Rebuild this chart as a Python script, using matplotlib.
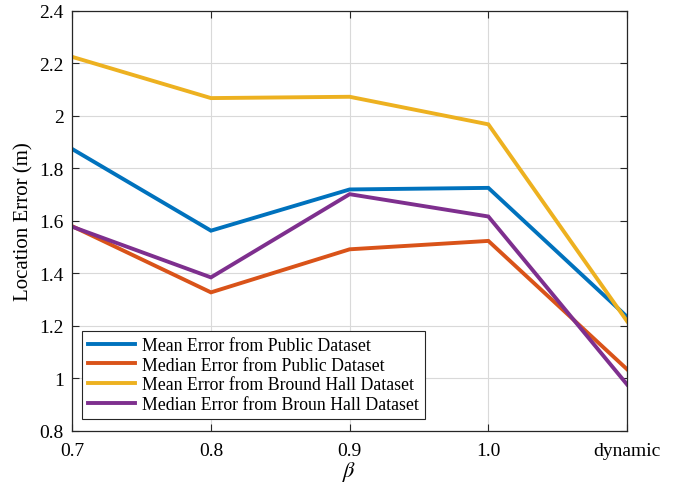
import matplotlib.pyplot as plt
import numpy as np

plt.rcParams['font.family'] = ['Liberation Serif', 'DejaVu Serif']
plt.rcParams['mathtext.fontset'] = 'stix'

beta_labels = ["0.7", "0.8", "0.9", "1.0", "dynamic"]
mean_public = [1.874, 1.563, 1.720, 1.726, 1.235]
median_public = [1.580, 1.328, 1.492, 1.524, 1.035]
mean_bround = [2.225, 2.068, 2.073, 1.968, 1.218]
median_broun = [1.578, 1.385, 1.702, 1.617, 0.977]

series = [
    ("Mean Error from Public Dataset", mean_public, "#0072BD"),
    ("Median Error from Public Dataset", median_public, "#D95319"),
    ("Mean Error from Bround Hall Dataset", mean_bround, "#EDB120"),
    ("Median Error from Broun Hall Dataset", median_broun, "#7E2F8E"),
]

fig = plt.figure(figsize=(6.75, 4.89), dpi=100)
ax = fig.add_axes([0.107, 0.1166, 0.822, 0.859])

x = np.arange(len(beta_labels))
for name, vals, col in series:
    ax.plot(x, vals, color=col, lw=2.8, label=name, solid_joinstyle="miter")

ax.set_xlim(0, 4)
ax.set_ylim(0.8, 2.4)
ax.set_xticks(x)
ax.set_xticklabels(beta_labels)
ax.set_yticks(np.arange(0.8, 2.41, 0.2))
ax.set_yticklabels(["0.8", "1", "1.2", "1.4", "1.6", "1.8", "2", "2.2", "2.4"])

ax.grid(True, color="#d9d9d9", lw=0.8)
ax.set_axisbelow(True)
ax.tick_params(direction="in", top=True, right=True, labelsize=14, length=5,
               color="#262626")
ax.tick_params(axis="x", pad=8)
ax.tick_params(axis="y", pad=6)
for s in ax.spines.values():
    s.set_color("#262626")
    s.set_linewidth(0.9)

ax.set_xlabel(r"$\beta$", fontsize=16, labelpad=0)
ax.set_ylabel("Location Error (m)", fontsize=15)

leg = ax.legend(loc="lower left", bbox_to_anchor=(0.018, 0.028), fontsize=12.8,
                fancybox=False, framealpha=1, edgecolor="#262626",
                handlelength=2.6, borderpad=0.35, labelspacing=0.15,
                handletextpad=0.4, borderaxespad=0)
leg.get_frame().set_linewidth(0.8)

fig.savefig("out.png", dpi=100)
